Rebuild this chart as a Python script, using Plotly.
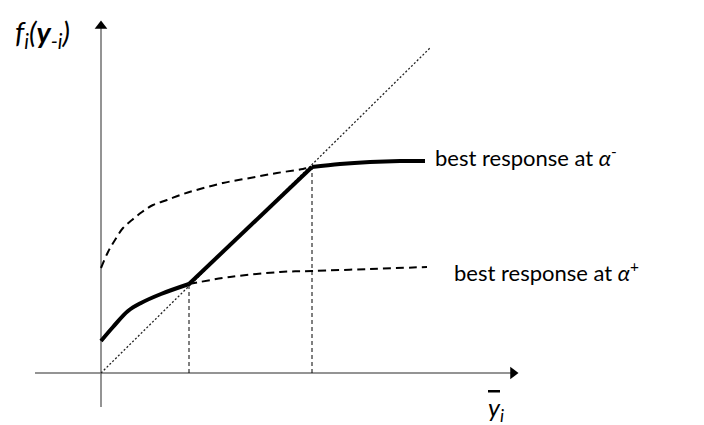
import plotly.graph_objects as go

# Schematic coordinates: origin at the intersection of the two axes
axis_x_ext = [-66, 412]
axis_y_ext = [-34, 347]

diag_x = [0, 329]
diag_y = [0, 325]

# best response at alpha- (dashed part)
brm_x = [0, 7, 14, 22, 31, 41, 52, 66, 82, 99, 122, 149, 176, 202, 211]
brm_y = [105, 121, 133, 145, 153, 161, 168, 173, 179, 184, 190, 195, 200, 204, 206]

# best response at alpha+ (dashed part)
brp_x = [88, 129, 179, 211, 269, 326]
brp_y = [89, 96, 101, 102, 104, 106]

# solid equilibrium best response
solid_low_x = [0, 12, 27, 40, 60, 88]
solid_low_y = [32, 46, 62, 70, 79, 89]
kinks_x = [88, 211]
kinks_y = [89, 206]
solid_high_x = [211, 239, 269, 299, 324]
solid_high_y = [206, 209, 211, 212, 212]

label_minus = "best response at <i>α</i><sup>-</sup>"
label_plus = "best response at <i>α</i><sup>+</sup>"
label_y = "<i>f</i><sub><i>i</i></sub><i>(</i><b><i>y</i></b><sub><i>-i</i></sub><i>)</i>"
label_x = "<span style='text-decoration:overline'><i>y</i></span><sub><i>i</i></sub>"

FONT = "Lato, 'Open Sans', sans-serif"
fig = go.Figure()

# axes
fig.add_trace(go.Scatter(x=axis_x_ext, y=[0, 0], mode="lines",
                         line=dict(color="#707070", width=1.5), hoverinfo="skip"))
fig.add_trace(go.Scatter(x=[0, 0], y=axis_y_ext, mode="lines",
                         line=dict(color="#707070", width=1.5), hoverinfo="skip"))
fig.add_trace(go.Scatter(x=[axis_x_ext[1]], y=[0], mode="markers",
                         marker=dict(symbol="triangle-right", size=11, color="black"),
                         hoverinfo="skip"))
fig.add_trace(go.Scatter(x=[0], y=[axis_y_ext[1]], mode="markers",
                         marker=dict(symbol="triangle-up", size=11, color="black"),
                         hoverinfo="skip"))

# 45-degree line
fig.add_trace(go.Scatter(x=diag_x, y=diag_y, mode="lines",
                         line=dict(color="#222222", width=1.3, dash="2px,2px"),
                         hoverinfo="skip"))

# vertical guides
for kx, ky in zip(kinks_x, kinks_y):
    fig.add_trace(go.Scatter(x=[kx, kx], y=[0, ky], mode="lines",
                             line=dict(color="black", width=1, dash="4px,3px"),
                             hoverinfo="skip"))

# dashed best responses
fig.add_trace(go.Scatter(x=brm_x, y=brm_y, mode="lines", line_shape="spline",
                         line=dict(color="black", width=2, dash="8px,5px"),
                         hoverinfo="skip"))
fig.add_trace(go.Scatter(x=brp_x, y=brp_y, mode="lines", line_shape="spline",
                         line=dict(color="black", width=2, dash="8px,5px"),
                         hoverinfo="skip"))

# solid best response
fig.add_trace(go.Scatter(x=solid_low_x, y=solid_low_y, mode="lines", line_shape="spline",
                         line=dict(color="black", width=4), hoverinfo="skip"))
fig.add_trace(go.Scatter(x=kinks_x, y=kinks_y, mode="lines",
                         line=dict(color="black", width=4), hoverinfo="skip"))
fig.add_trace(go.Scatter(x=solid_high_x, y=solid_high_y, mode="lines", line_shape="spline",
                         line=dict(color="black", width=4), hoverinfo="skip"))

annots = [
    dict(x=332, y=217, text=label_minus, size=22),
    dict(x=351, y=102, text=label_plus, size=22),
    dict(x=-88, y=340, text=label_y, size=29),
    dict(x=385, y=-36, text=label_x, size=25),
]
for a in annots:
    fig.add_annotation(x=a["x"], y=a["y"], text=a["text"], showarrow=False,
                       xanchor="left", yanchor="middle",
                       font=dict(family=FONT, size=a["size"], color="black"))

fig.update_layout(
    width=704, height=425,
    margin=dict(l=0, r=0, t=0, b=0),
    paper_bgcolor="white", plot_bgcolor="white",
    showlegend=False,
    xaxis=dict(range=[-93, 611], visible=False, fixedrange=True),
    yaxis=dict(range=[-60, 365], visible=False, fixedrange=True),
)

fig.write_html("out.html")
